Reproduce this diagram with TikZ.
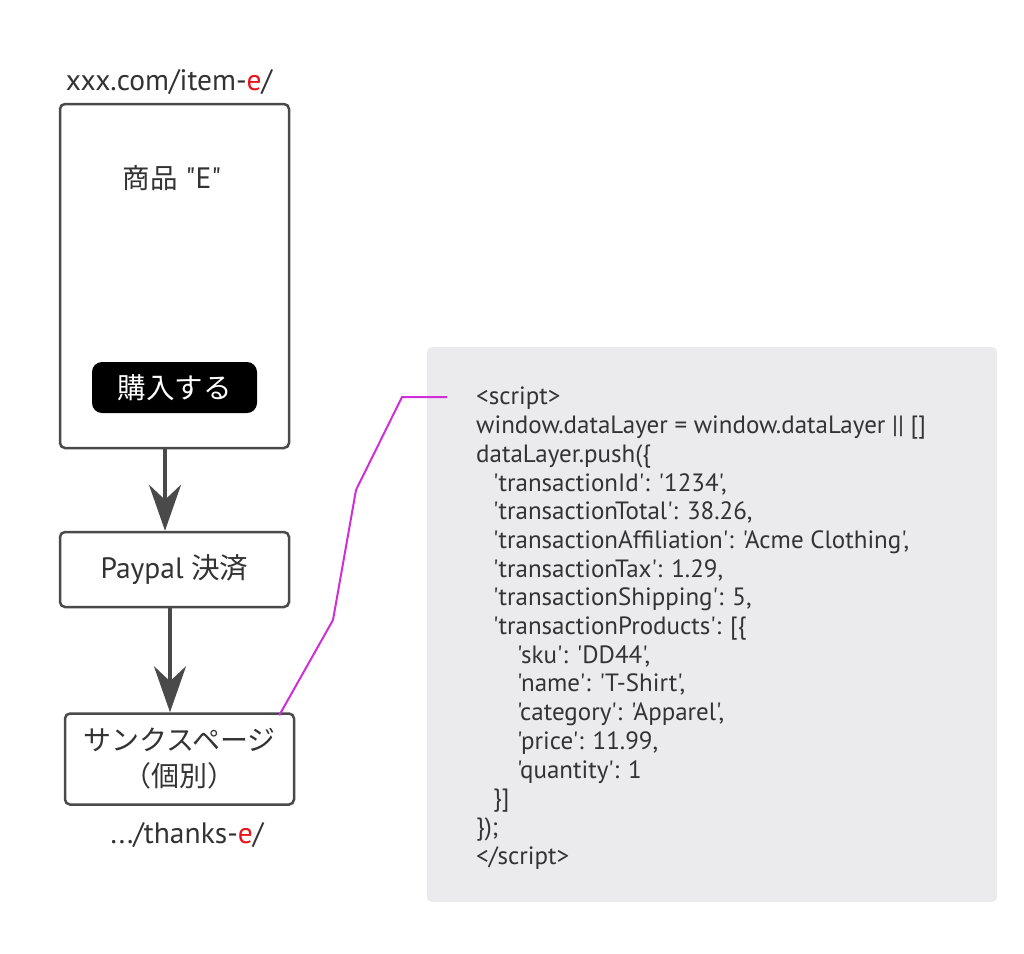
\documentclass[tikz,border=0pt]{standalone}
\usepackage{fontspec}
\usetikzlibrary{arrows.meta}
\newfontfamily\latfont{PT Sans}
\newfontfamily\jpfont{Noto Sans CJK JP}
\definecolor{inkgray}{HTML}{333333}
\definecolor{boxline}{HTML}{4A4A4A}
\definecolor{panelgray}{HTML}{EBEAEC}
\definecolor{linkpink}{HTML}{D02ED8}
\definecolor{urlred}{HTML}{E8141B}

\begin{document}
\begin{tikzpicture}[x=1pt,y=-1pt,
	pagebox/.style={draw=boxline, line width=2.5pt, rounded corners=5pt, fill=white, inner sep=0pt},
	label/.style={text=inkgray, font=\latfont\fontsize{29.5}{34}\selectfont, inner sep=0pt},
	jplabel/.style={font=\jpfont\fontsize{28.5}{34}\selectfont},
	flow/.style={draw=boxline, line width=4pt, -{Stealth[length=46pt,width=32pt,inset=15pt]}},
	link/.style={draw=linkpink, line width=2pt}]
	\useasboundingbox (0,0) rectangle (1024,953);
	
	% page boxes
	\node[pagebox, minimum width=229, minimum height=344] (item) at (174.5,276) {};
	\node[label] (itemname) at (172,178) {{\jpfont\fontsize{27.5}{34}\selectfont 商品} "E"};
	\node[fill=black, rounded corners=10pt, minimum width=165, minimum height=51, inner sep=0pt,
		text=white, jplabel] (buy) at (174.5,387.5) {購入する};
	\node[label] (itemurl) at (169,82) {xxx.com/item-\textcolor{urlred}{e}/};
	
	\node[pagebox, minimum width=229, minimum height=75, label] (paypal) at (174.5,569.5) {Paypal {\jpfont\fontsize{28.5}{34}\selectfont 決済}};
	
	\node[pagebox, minimum width=229, minimum height=91, label, align=center,
		font=\jpfont\fontsize{28}{36}\selectfont] (thanks) at (179.5,759) {サンクスページ\\（個別）};
	\node[label] (thanksurl) at (187,835) {.../thanks-\textcolor{urlred}{e}/};
	
	% flow arrows
	\coordinate (a1) at (165,0);
	\coordinate (a2) at (170,0);
	\draw[flow] (item.south -| a1) -- (paypal.north -| a1);
	\draw[flow] (paypal.south -| a2) -- (thanks.north -| a2);
	
	% code panel
	\node[fill=panelgray, rounded corners=5pt, minimum width=570, minimum height=555, inner sep=0pt] (panel) at (712,624.5) {};
	\node[anchor=north west, inner sep=0pt, align=left, text=inkgray,
		font=\latfont\fontsize{25}{28.7}\selectfont] (code) at (476,387) {%
		<script>\\
		window.dataLayer = window.dataLayer || []\\
		dataLayer.push(\{\\
		\hspace*{17pt}'transactionId': '1234',\\
		\hspace*{17pt}'transactionTotal': 38.26,\\
		\hspace*{17pt}'transactionAffiliation': 'Acme Clothing',\\
		\hspace*{17pt}'transactionTax': 1.29,\\
		\hspace*{17pt}'transactionShipping': 5,\\
		\hspace*{17pt}'transactionProducts': [\{\\
		\hspace*{41pt}'sku': 'DD44',\\
		\hspace*{41pt}'name': 'T-Shirt',\\
		\hspace*{41pt}'category': 'Apparel',\\
		\hspace*{41pt}'price': 11.99,\\
		\hspace*{41pt}'quantity': 1\\
		\hspace*{17pt}\}]\\
		\});\\
		</script>};
	
	% link from thanks page to code
	\coordinate (b1) at (333,620);
	\coordinate (b2) at (356,490);
	\coordinate (b3) at (402,397);
	\coordinate (b4) at (447,397);
	\draw[link] ([xshift=-16pt,yshift=-3pt]thanks.north east) -- (b1) -- (b2) -- (b3) -- (b4);
	
\end{tikzpicture}
\end{document}
